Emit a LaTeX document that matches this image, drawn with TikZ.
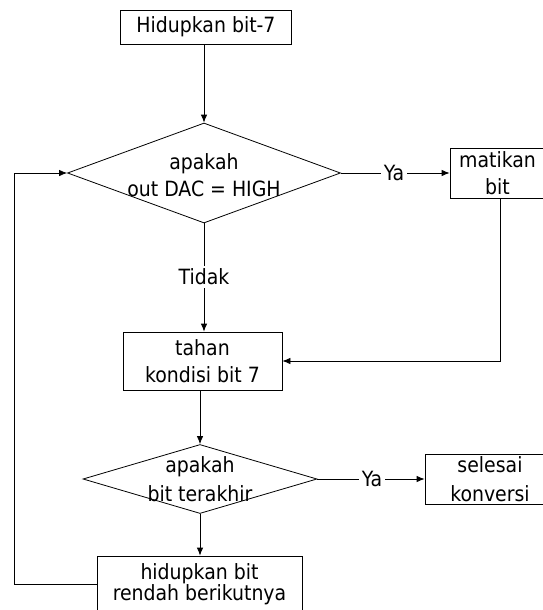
\documentclass[tikz,border=0pt]{standalone}
\usepackage{fontspec}
\setmainfont{DejaVu Sans Condensed}
\usetikzlibrary{shapes.geometric,arrows.meta}
\begin{document}
\begin{tikzpicture}[x=1pt,y=-1pt,
  every node/.style={font=\fontsize{21}{27}\selectfont, text=black},
  procbox/.style={draw, line width=0.8pt, rectangle, inner sep=0pt, align=center},
  decision/.style={draw, line width=0.8pt, diamond, inner sep=0pt},
  txt/.style={inner sep=0pt, align=center},
  lbl/.style={inner sep=3pt},
  conn/.style={line width=0.8pt},
  arr/.style={conn, -{Latex[length=8pt,width=6.5pt]}}]
\useasboundingbox (0,0) rectangle (543,610);
% nodes
\node[procbox, minimum width=171, minimum height=34] (b1) at (206,27) {Hidupkan bit-7};
\node[decision, minimum width=273, minimum height=100] (d1) at (204,173) {};
\node[txt] (d1t) at (204,175) {apakah\\out DAC = HIGH};
\node[lbl] (ya1) at (394,173) {Ya};
\node[procbox, minimum width=95, minimum height=50] (m) at (497.5,173) {matikan\\bit};
\node[lbl] (tidak) at (204,277) {Tidak};
\node[procbox, minimum width=159, minimum height=58] (t) at (202.5,361) {tahan\\kondisi bit 7};
\node[decision, minimum width=234, minimum height=69] (d2) at (200,479) {};
\node[txt, font=\fontsize{21}{29}\selectfont] (d2t) at (200,479) {apakah\\bit terakhir};
\node[lbl] (ya2) at (372,479) {Ya};
\node[procbox, minimum width=120, minimum height=50] (s) at (485,479) {};
\node[txt, font=\fontsize{21}{29}\selectfont] (st) at (490,479) {selesai\\konversi};
\node[procbox, minimum width=205, minimum height=56, font=\fontsize{21}{21}\selectfont] (h) at (199.5,584) {hidupkan bit\\rendah berikutnya};
\coordinate (lp) at (14,173);
% connectors
\draw[arr] (b1.south -| d1.north) -- (d1.north);
\draw[conn] (d1.east) -- (ya1.west);
\draw[arr] (ya1.east) -- (m.west);
\draw[conn] (d1.south) -- (tidak.north);
\draw[arr] (tidak.south) -- (tidak.south |- t.north);
\draw[arr] ([xshift=2.5pt]m.south) |- (t.east);
\draw[arr] (t.south -| d2.north) -- (d2.north);
\draw[conn] (d2.east) -- (ya2.west);
\draw[arr] (ya2.east) -- (s.west);
\draw[arr] (d2.south) -- (d2.south |- h.north);
\draw[arr] (h.west) -| (lp) -- (d1.west);
\end{tikzpicture}
\end{document}
